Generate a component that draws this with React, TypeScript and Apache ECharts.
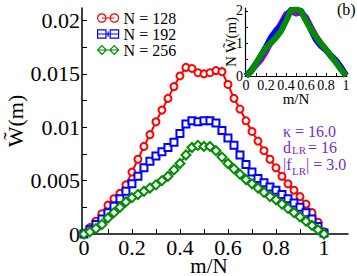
import React, { useEffect, useRef } from "react";
import * as echarts from "echarts";

// m/N sampling positions (main panel)
const mN = [0, 0.025, 0.05, 0.075, 0.1, 0.125, 0.15, 0.175, 0.2, 0.225, 0.25, 0.275, 0.3, 0.325, 0.35, 0.375, 0.4, 0.425, 0.45, 0.475, 0.5, 0.525, 0.55, 0.575, 0.6, 0.625, 0.65, 0.675, 0.7, 0.725, 0.75, 0.775, 0.8, 0.825, 0.85, 0.875, 0.9, 0.925, 0.95, 0.975, 1];

const w128 = [0, 0.0006, 0.0012, 0.0019, 0.0027, 0.0033, 0.0038, 0.0046, 0.0058, 0.007, 0.0082, 0.0093, 0.0105, 0.0116, 0.0127, 0.0138, 0.0148, 0.0156, 0.0155, 0.0151, 0.015, 0.0151, 0.0153, 0.0152, 0.014, 0.0127, 0.0117, 0.0106, 0.0096, 0.0087, 0.0078, 0.007, 0.0062, 0.0054, 0.0047, 0.0041, 0.0035, 0.0028, 0.002, 0.0011, 0.0002];
const w192 = [0, 0.0004, 0.0009, 0.0014, 0.002, 0.0026, 0.0033, 0.004, 0.0047, 0.0054, 0.0062, 0.0068, 0.0073, 0.0077, 0.0081, 0.0086, 0.0094, 0.0103, 0.0106, 0.0105, 0.0106, 0.0106, 0.0104, 0.0097, 0.009, 0.0083, 0.0074, 0.0065, 0.0058, 0.0052, 0.0048, 0.0044, 0.0041, 0.0037, 0.0033, 0.0029, 0.0025, 0.002, 0.0014, 0.0007, 0.0001];
const w256 = [0, 0.0002, 0.0005, 0.0009, 0.0015, 0.002, 0.0025, 0.003, 0.0034, 0.0037, 0.004, 0.0043, 0.0046, 0.005, 0.0054, 0.006, 0.0066, 0.0074, 0.0081, 0.0083, 0.0082, 0.0082, 0.0078, 0.0072, 0.0066, 0.0061, 0.0056, 0.0051, 0.0047, 0.0043, 0.0039, 0.0035, 0.0032, 0.0028, 0.0024, 0.002, 0.0016, 0.0012, 0.0008, 0.0004, 0];

const seriesNames = ["N = 128", "N = 192", "N = 256"];

// inset: N * W(m)
const insetX = [0, 0.05, 0.1, 0.15, 0.2, 0.25, 0.3, 0.35, 0.4, 0.45, 0.5, 0.55, 0.6, 0.65, 0.7, 0.75, 0.8, 0.85, 0.9, 0.95, 1];
const insetPurple = [0, 0.15, 0.33, 0.5, 0.75, 1.05, 1.33, 1.62, 1.9, 1.99, 1.92, 1.96, 1.8, 1.5, 1.22, 1.0, 0.8, 0.6, 0.45, 0.26, 0.02];
const insetBlue = [0, 0.17, 0.38, 0.63, 0.9, 1.19, 1.4, 1.56, 1.8, 2.03, 2.03, 2.0, 1.73, 1.42, 1.11, 0.92, 0.79, 0.63, 0.48, 0.27, 0.02];
const insetGreen = [0, 0.13, 0.38, 0.64, 0.87, 1.02, 1.18, 1.38, 1.69, 2.02, 2.04, 2.0, 1.69, 1.43, 1.2, 1.0, 0.82, 0.61, 0.41, 0.2, 0];

// ticks & labels
const mainXTicks = [0, 0.1, 0.2, 0.3, 0.4, 0.5, 0.6, 0.7, 0.8, 0.9, 1];
const mainXLabels = [0, 0.2, 0.4, 0.6, 0.8, 1];
const mainYTicks = [0, 0.0025, 0.005, 0.0075, 0.01, 0.0125, 0.015, 0.0175, 0.02];
const mainYLabels = [0, 0.005, 0.01, 0.015, 0.02];
const insetXTicks = [0, 0.1, 0.2, 0.3, 0.4, 0.5, 0.6, 0.7, 0.8, 0.9, 1];
const insetXLabels = [0, 0.2, 0.4, 0.6, 0.8, 1];
const insetYTicks = [0, 0.5, 1, 1.5, 2];
const insetYLabels = [0, 1, 2];

const RED = "#ff0000";
const BLUE = "#0000ff";
const GREEN = "#008b00";
const VIOLET = "#9400d3";
const INDIGO = "#7a2ec0";
const SERIF = "'Liberation Serif', 'DejaVu Serif', serif";

const circleIcon = "path://M1 9 A8 8 0 1 0 17 9 A8 8 0 1 0 1 9 Z M25 9 A8 8 0 1 0 41 9 A8 8 0 1 0 25 9 Z M9 9 L33 9";
const squareIcon = "path://M1 1 L17 1 L17 17 L1 17 Z M25 1 L41 1 L41 17 L25 17 Z M1 9 L41 9 M21 4 L21 14";
const diamondIcon = "path://M9 0.5 L17.5 9 L9 17.5 L0.5 9 Z M33 0.5 L41.5 9 L33 17.5 L24.5 9 Z M1 9 L41 9";

const fmt = (v: number) => String(+Number(v).toFixed(4));

export default function App() {
  const ref = useRef<HTMLDivElement>(null);
  useEffect(() => {
    if (!ref.current) return;
    const chart = echarts.init(ref.current, undefined, { renderer: "svg" });
    const pair = (xs: number[], ys: number[]) => xs.map((x, i) => [x, ys[i]]);
    const axisBase = {
      type: "value" as const,
      splitLine: { show: false },
      nameMoveOverlap: false,
      axisLine: { show: true, onZero: false, lineStyle: { color: "#000", width: 1.5 } },
    };
    const purpleText = (text: string, x: number, y: number, size = 16) => ({
      type: "text", x, y,
      style: { text, font: `${size}px ${SERIF}`, fill: INDIGO, verticalAlign: "middle", lineHeight: size - 4 },
    });
    chart.setOption({
      animation: false,
      backgroundColor: "#fff",
      grid: [
        { left: 82, top: 8, width: 266, height: 226, containLabel: false, outerBoundsMode: "none" },
        { left: 245, top: 8, width: 102, height: 68, containLabel: false, outerBoundsMode: "none" },
      ],
      legend: {
        left: 97,
        top: 10,
        orient: "vertical",
        itemWidth: 21,
        itemHeight: 9,
        itemGap: 0,
        itemTextGap: 2,
        padding: 0,
        textStyle: { fontFamily: SERIF, fontSize: 16, color: "#000", lineHeight: 14 },
        data: [
          { name: seriesNames[0], icon: circleIcon, itemStyle: { color: "rgba(0,0,0,0)", borderColor: RED, borderWidth: 1.2 } },
          { name: seriesNames[1], icon: squareIcon, itemStyle: { color: "rgba(0,0,0,0)", borderColor: BLUE, borderWidth: 1.2 } },
          { name: seriesNames[2], icon: diamondIcon, itemStyle: { color: "rgba(0,0,0,0)", borderColor: GREEN, borderWidth: 1.2 } },
        ],
      },
      xAxis: [
        {
          ...axisBase,
          gridIndex: 0,
          min: -0.008,
          max: 1.1,
          name: "m/N",
          nameLocation: "middle",
          nameGap: 23,
          nameTextStyle: { fontFamily: SERIF, fontSize: 21, lineHeight: 18, color: "#000", padding: [0, 12, 0, 0] },
          axisTick: { show: true, inside: true, length: 5, customValues: mainXTicks, lineStyle: { color: "#000", width: 1 } },
          axisLabel: { show: true, customValues: mainXLabels, margin: 3, fontFamily: SERIF, fontSize: 22, lineHeight: 20, color: "#000", formatter: fmt },
        },
        {
          ...axisBase,
          gridIndex: 1,
          min: -0.01,
          max: 1.01,
          name: "m/N",
          nameLocation: "middle",
          nameGap: 15,
          nameTextStyle: { fontFamily: SERIF, fontSize: 15, color: "#000" },
          axisLine: { show: true, onZero: false, lineStyle: { color: "#000", width: 1.2 } },
          axisTick: { show: true, inside: true, length: 3, customValues: insetXTicks, lineStyle: { color: "#000", width: 1 } },
          axisLabel: { show: true, customValues: insetXLabels, margin: 2, fontFamily: SERIF, fontSize: 14, color: "#000", formatter: fmt },
        },
      ],
      yAxis: [
        {
          ...axisBase,
          gridIndex: 0,
          min: 0,
          max: 0.02116,
          name: "W\u0303(m)",
          nameLocation: "middle",
          nameGap: 56,
          nameTextStyle: { fontFamily: SERIF, fontSize: 22, color: "#000" },
          axisTick: { show: true, inside: true, length: 5, customValues: mainYTicks, lineStyle: { color: "#000", width: 1 } },
          axisLabel: { show: true, customValues: mainYLabels, margin: 2, fontFamily: SERIF, fontSize: 22, color: "#000", formatter: fmt },
        },
        {
          ...axisBase,
          gridIndex: 1,
          min: 0,
          max: 2.09,
          name: "N W\u0303(m)",
          nameLocation: "middle",
          nameGap: 7,
          nameTextStyle: { fontFamily: SERIF, fontSize: 15, color: "#000" },
          axisLine: { show: true, onZero: false, lineStyle: { color: "#000", width: 1.2 } },
          axisTick: { show: true, inside: true, length: 3, customValues: insetYTicks, lineStyle: { color: "#000", width: 1 } },
          axisLabel: { show: true, customValues: insetYLabels, margin: 2, fontFamily: SERIF, fontSize: 14, color: "#000", formatter: fmt },
        },
      ],
      series: [
        {
          name: seriesNames[0], type: "line", xAxisIndex: 0, yAxisIndex: 0, data: pair(mN, w128),
          symbol: "emptyCircle", symbolSize: 7, clip: false, z: 2,
          lineStyle: { color: RED, width: 2 }, itemStyle: { color: RED, borderColor: RED, borderWidth: 1 },
        },
        {
          name: seriesNames[1], type: "line", xAxisIndex: 0, yAxisIndex: 0, data: pair(mN, w192),
          symbol: "emptyRect", symbolSize: 7, clip: false, z: 3,
          lineStyle: { color: BLUE, width: 2 }, itemStyle: { color: BLUE, borderColor: BLUE, borderWidth: 1 },
        },
        {
          name: seriesNames[2], type: "line", xAxisIndex: 0, yAxisIndex: 0, data: pair(mN, w256),
          symbol: "emptyDiamond", symbolSize: 9, clip: false, z: 4,
          lineStyle: { color: GREEN, width: 2 }, itemStyle: { color: GREEN, borderColor: GREEN, borderWidth: 1 },
        },
        {
          name: "inset-purple", type: "line", xAxisIndex: 1, yAxisIndex: 1, data: pair(insetX, insetPurple),
          showSymbol: false, symbol: "none", clip: true, z: 2, lineStyle: { color: VIOLET, width: 6, join: "round" },
        },
        {
          name: "inset-blue", type: "line", xAxisIndex: 1, yAxisIndex: 1, data: pair(insetX, insetBlue),
          showSymbol: false, symbol: "none", clip: true, z: 3, lineStyle: { color: BLUE, width: 6, join: "round" },
        },
        {
          name: "inset-green", type: "line", xAxisIndex: 1, yAxisIndex: 1, data: pair(insetX, insetGreen),
          showSymbol: false, symbol: "none", clip: true, z: 4, lineStyle: { color: GREEN, width: 6, join: "round" },
        },
      ],
      graphic: [
        { type: "text", x: 337, y: 9, style: { text: "(b)", font: `16px ${SERIF}`, fill: "#000", verticalAlign: "middle" } },
        purpleText("\u03ba = 16.0", 283, 131),
        purpleText("d", 283, 147),
        purpleText("LR", 292, 150, 11),
        purpleText("= 16", 308, 147),
        purpleText("|f", 283, 164),
        purpleText("LR", 292, 171, 11),
        purpleText("| = 3.0", 306, 164),
      ],
    });
    return () => chart.dispose();
  }, []);
  return <div ref={ref} style={{ position: "absolute", left: 0, top: 0, width: 357, height: 276 }} />;
}
